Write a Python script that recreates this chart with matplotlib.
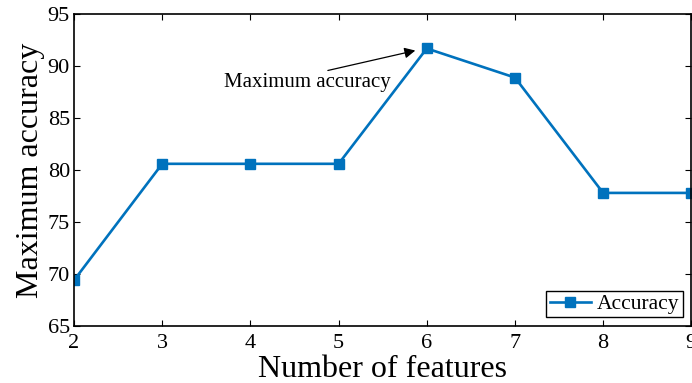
import numpy as np
import matplotlib.pyplot as plt

plt.rcParams["font.family"] = ["Liberation Serif", "DejaVu Serif"]

# Data
numFeatures = [2, 3, 4, 5, 6, 7, 8, 9]
accuracy = [69.4, 80.6, 80.6, 80.6, 91.7, 88.9, 77.8, 77.8]
yTicks = [65, 70, 75, 80, 85, 90, 95]

fig = plt.figure(figsize=(6.92, 3.83), dpi=100)
ax = fig.add_axes([0.107, 0.149, 0.892, 0.814])

ax.plot(numFeatures, accuracy, "-s", color="#0072BD", linewidth=1.9,
        markersize=7, label="Accuracy")

# Arrow pointing to the best result
best = int(np.argmax(accuracy))
ax.annotate("Maximum accuracy", xy=(numFeatures[best] - 0.13, accuracy[best] - 0.2),
            xytext=(3.7, 88.4), fontsize=15, va="center",
            arrowprops=dict(arrowstyle="-|>", color="black", lw=0.9,
                            shrinkA=0, shrinkB=0, mutation_scale=16,
                            relpos=(0.55, 1.0)))

ax.set_xlim(2, 9)
ax.set_ylim(65, 95)
ax.set_xticks(numFeatures)
ax.set_yticks(yTicks)
ax.tick_params(direction="in", top=True, right=True, labelsize=16, length=4, pad=3)
ax.tick_params(axis="x", pad=6)
for s in ax.spines.values():
    s.set_linewidth(1.2)

ax.set_xlabel("Number of features", fontsize=23, labelpad=1)
ax.set_ylabel("Maximum accuracy", fontsize=23, labelpad=2)

leg = ax.legend(loc="lower right", fontsize=15.5, fancybox=False, framealpha=1,
                edgecolor="black", borderpad=0.15, handlelength=1.9,
                handletextpad=0.3, borderaxespad=0.4)
leg.get_frame().set_linewidth(1.0)

fig.savefig("out.png", dpi=100)
